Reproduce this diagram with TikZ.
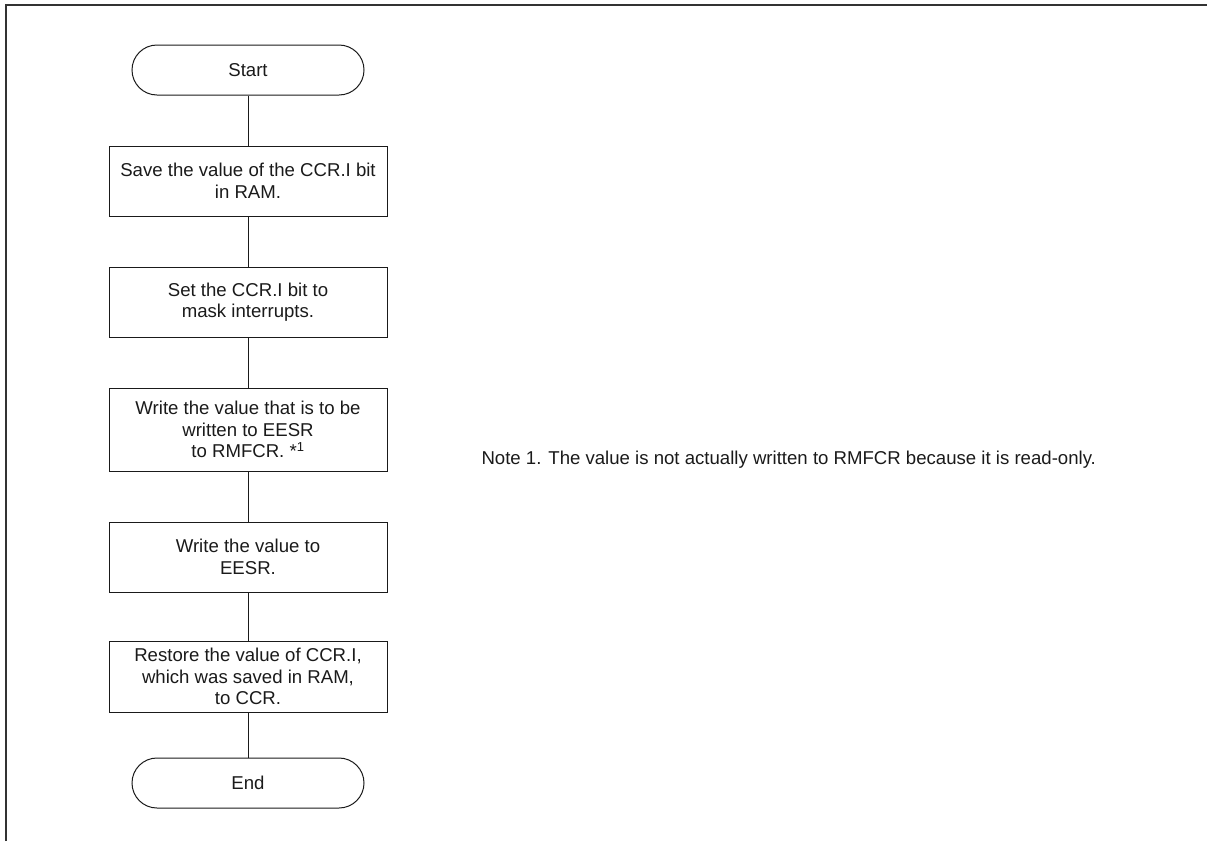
\documentclass[tikz,border=0pt]{standalone}
\usepackage{fontspec}
\setmainfont{Liberation Sans}
\usetikzlibrary{positioning}
\definecolor{ink}{HTML}{1A1A1A}
\definecolor{rule}{HTML}{333333}

\begin{document}
\begin{tikzpicture}[x=1pt,y=-1pt,node distance=50pt,
 every node/.style={font=\fontsize{18.6}{21.5}\selectfont,text=ink},
 terminal/.style={draw=ink,line width=1pt,rounded corners=25pt,minimum width=232pt,minimum height=50pt},
 process/.style={draw=ink,line width=1pt,align=center,minimum width=278pt,minimum height=70pt},
 every edge/.style={draw=ink,line width=1pt}]
\useasboundingbox (0,0) rectangle (1207,841);
\draw[rule,line width=2pt] (6,841) -- (6,5) -- (1207,5);
\node[terminal] (start) at (248,70) {Start};
\node[process,below=of start] (save) {Save the value of the CCR.I bit\\in RAM.};
\node[process,below=of save] (mask) {Set the CCR.I bit to\\mask interrupts.};
\node[process,below=of mask,minimum height=83pt] (dummy) {Write the value that is to be\\written to EESR\\ to RMFCR. *\textsuperscript{1}};
\node[process,below=of dummy] (write) {Write the value to\\EESR.};
\node[process,below=48pt of write,minimum height=71pt] (restore) {Restore the value of CCR.I,\\which was saved in RAM,\\to CCR.};
\node[terminal,below=45pt of restore] (end) {End};
\node[anchor=west] (note) at (478,460) {Note 1. The value is not actually written to RMFCR because it is read-only.};
\path
 (start) edge (save)
 (save) edge (mask)
 (mask) edge (dummy)
 (dummy) edge (write)
 (write) edge (restore)
 (restore) edge (end);
\end{tikzpicture}
\end{document}
